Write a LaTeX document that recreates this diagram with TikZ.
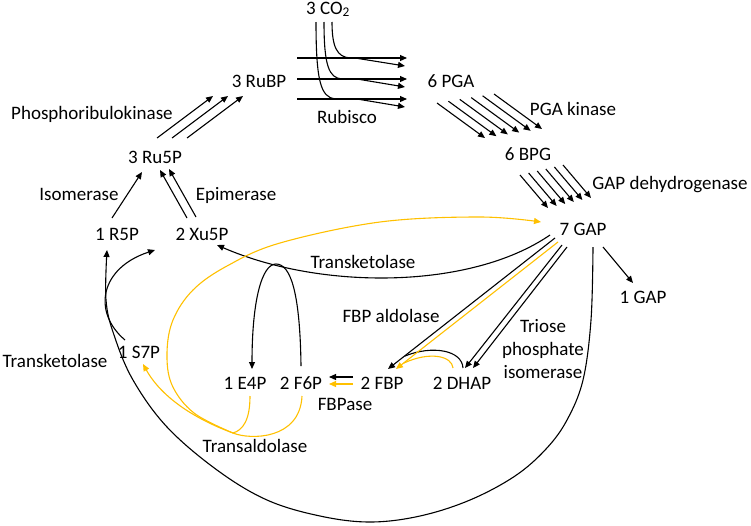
\documentclass[tikz,border=0pt]{standalone}
\usepackage{fontspec}
\setmainfont{Carlito}
\usetikzlibrary{arrows.meta}
\definecolor{goldc}{RGB}{255,192,0}
\begin{document}
\begin{tikzpicture}[x=1pt,y=-1pt,
  every node/.style={font=\fontsize{19}{23}\selectfont, inner sep=0pt, anchor=base},
  plainline/.style={line width=1.1pt},
  conn/.style={line width=1.1pt, -{Triangle[length=7pt,width=6pt]}},
  yconn/.style={conn, draw=goldc},
  yline/.style={plainline, draw=goldc}]
\useasboundingbox (0,0) rectangle (751,525);

% ---- labels ----
\node (co2) at (328,14) {3 CO\textsubscript{2}};
\node (rubp) at (259,87) {3 RuBP};
\node (pga) at (451,87) {6 PGA};
\node (rubisco) at (347,123) {Rubisco};
\node (pgak) at (573,115) {PGA kinase};
\node (bpg) at (528,160) {6 BPG};
\node (gapdh) at (670,189) {GAP dehydrogenase};
\node (gap7) at (583,235) {7 GAP};
\node (gap1) at (643,303) {1 GAP};
\node (prk) at (92,119) {Phosphoribulokinase};
\node (ru5p) at (155,163) {3 Ru5P};
\node (isom) at (79,200) {Isomerase};
\node (epim) at (236,200) {Epimerase};
\node (r5p) at (117,240) {1 R5P};
\node (xu5p) at (202,240) {2 Xu5P};
\node (tk1) at (363,268) {Transketolase};
\node (tk2) at (55,367) {Transketolase};
\node (s7p) at (139,358) {1 S7P};
\node (e4p) at (245,389) {1 E4P};
\node (f6p) at (301,389) {2 F6P};
\node (fbp) at (382,389) {2 FBP};
\node (dhap) at (462,389) {2 DHAP};
\node (fbpase) at (345,410) {FBPase};
\node (fbpald) at (391,322) {FBP aldolase};
\node[align=center] (tpi) at (543,378) {Triose\\phosphate\\isomerase};
\node (tald) at (255,452) {Transaldolase};

% ---- phosphoribulokinase ----
\foreach \k in {0,1,2}
  \draw[conn] ({157+15*\k},138) -- ({213+15*\k},96);

% ---- rubisco ----
\foreach \yy in {58,79,99}
  \draw[conn] (297,\yy) -- (407,\yy);
\draw[conn] (316,22) .. controls (316,82) and (321,97) .. (335,99) -- (357,99) -- (405,107);
\draw[conn] (324,22) .. controls (324,66) and (329,78) .. (342,79) -- (357,79) -- (405,87);
\draw[conn] (332,22) .. controls (332,47) and (337,57) .. (350,58) -- (355,58) -- (405,66);

% ---- PGA kinase ----
\foreach \k in {0,...,5}
  \draw[conn] ({437+11.4*\k},{103-1.8*\k}) -- ++(48,35);

% ---- GAP dehydrogenase ----
\foreach \k in {0,...,5}
  \draw[conn] ({520+8.6*\k},{175-2*\k}) -- ++(28,33);

% ---- isomerase / epimerase ----
\draw[conn] (112,218) -- (142,172);
\draw[conn] (187,218) -- (160,170);
\draw[conn] (196,217) -- (169,169);

% ---- 7 GAP -> 1 GAP ----
\draw[conn] (603,247) -- (633,283);

% ---- transketolase (upper) ----
\draw[conn] (550,235) .. controls (470,290) and (320,290) .. (217,245);
% loop F6P -> E4P
\draw[conn] (301,366) .. controls (300,290) and (290,264) .. (276,264)
            .. controls (262,264) and (252,300) .. (252,369);

% ---- big arc GAP -> R5P ----
\draw[conn] plot[smooth, tension=0.6] coordinates {(593,247) (591,320) (583,380) (567,420) (546,449) (515,476) (470,500) (420,516) (370,522) (320,516) (267,500) (217,470) (167,427) (133,380) (114,335) (106,300) (107,250)};
% S7P -> Xu5P
\draw[conn] (125,340) .. controls (92,312) and (100,268) .. (155,250);

% ---- aldolase, TPI ----
\draw[conn] (555,238) -- (388,369);
\draw[plainline] (463,368) .. controls (462,350) and (432,345) .. (405,356);
\draw[conn] (562,245) -- (465,368);
\draw[conn] (567,247) -- (473,368);
\draw[yconn] (558,242) -- (396,369);
\draw[yline] (453,368) .. controls (452,356) and (430,351) .. (404,363);

% ---- FBPase ----
\draw[conn] (353,377) -- (329,377);
\draw[yconn] (353,384) -- (329,384);

% ---- transaldolase (yellow) ----
\draw[yline] (250,396) .. controls (250,420) and (243,430) .. (233,433);
\draw[yline] (302,396) .. controls (300,440) and (250,440) .. (233,433);
\draw[yconn] (233,433) .. controls (200,421) and (163,400) .. (143,364);
\draw[yconn] plot[smooth, tension=0.6] coordinates {(233,433) (194,413) (172,385) (167,353) (173,320) (193,290) (227,266) (280,243) (380,222) (480,217) (541,222)};
\end{tikzpicture}
\end{document}
